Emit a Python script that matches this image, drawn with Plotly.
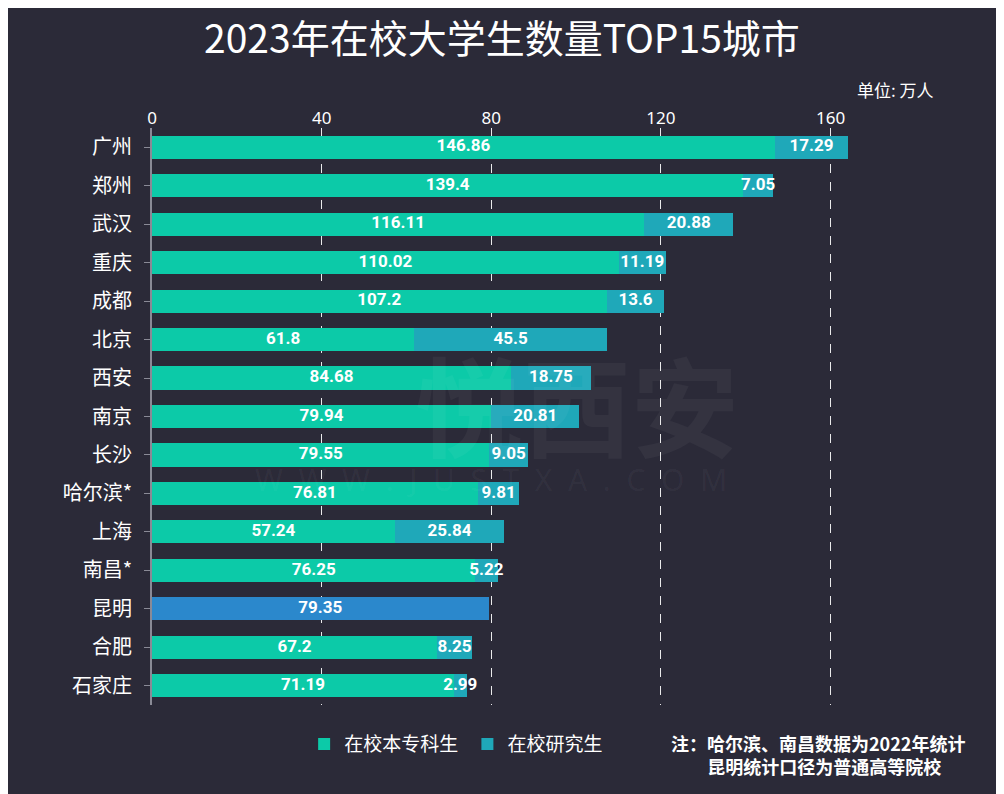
import plotly.graph_objects as go

cities = ["广州", "郑州", "武汉", "重庆", "成都", "北京", "西安", "南京", "长沙",
          "哈尔滨*", "上海", "南昌*", "昆明", "合肥", "石家庄"]
undergrad = [146.86, 139.4, 116.11, 110.02, 107.2, 61.8, 84.68, 79.94, 79.55,
             76.81, 57.24, 76.25, 79.35, 67.2, 71.19]
postgrad = [17.29, 7.05, 20.88, 11.19, 13.6, 45.5, 18.75, 20.81, 9.05,
            9.81, 25.84, 5.22, None, 8.25, 2.99]
x_ticks = [0, 40, 80, 120, 160]

BG = "#2b2a38"
C1 = "#0ccaa8"
C2 = "#1fa8b9"
C_KM = "#2b88cc"
FONT_CJK = "Noto Sans CJK SC"

c1_colors = [C_KM if c == "昆明" else C1 for c in cities]

fig = go.Figure()

# watermark (drawn first, faint)
fig.add_annotation(text="<b>悦西安</b>", xref="paper", yref="paper",
                   x=0.59, y=0.525, xanchor="center", yanchor="middle",
                   showarrow=False,
                   font=dict(family=FONT_CJK, size=108, color="rgba(255,255,255,0.045)"))
fig.add_annotation(text="W  W  W  .  J  U  S  T  X  A  .  C  O  M", xref="paper", yref="paper",
                   x=0.47, y=0.39, xanchor="center", yanchor="middle",
                   showarrow=False,
                   font=dict(family="Noto Sans", size=30, color="rgba(255,255,255,0.045)"))

fig.add_trace(go.Bar(
    y=cities, x=undergrad, orientation="h", name="在校本专科生 ",
    marker=dict(color=c1_colors, line=dict(width=0)), width=0.6,
    hoverinfo="x+y",
))
fig.add_trace(go.Bar(
    y=cities, x=postgrad, orientation="h", name="在校研究生",
    marker=dict(color=C2, line=dict(width=0)), width=0.6,
    hoverinfo="x+y",
))

# labels centered on each segment
lab_font = dict(family="Roboto", size=17, color="white")
u_mid = [u / 2 for u in undergrad]
fig.add_trace(go.Scatter(
    y=cities, x=u_mid, mode="text",
    text=[f"<b>{u:g}</b>" for u in undergrad],
    textfont=lab_font, showlegend=False, hoverinfo="skip",
))
p_y, p_mid, p_txt = [], [], []
for c, u, p in zip(cities, undergrad, postgrad):
    if p is not None:
        p_y.append(c)
        p_mid.append(u + p / 2)
        p_txt.append(f"<b>{p:g}</b>")
fig.add_trace(go.Scatter(
    y=p_y, x=p_mid, mode="text", text=p_txt,
    textfont=lab_font, showlegend=False, hoverinfo="skip",
))

fig.update_layout(
    width=1004, height=794,
    paper_bgcolor=BG, plot_bgcolor=BG,
    barmode="stack",
    margin=dict(l=144, r=139, t=120, b=97, autoexpand=False),
    title=dict(text="2023年在校大学生数量TOP15城市", x=0.492, xref="container",
               xanchor="center", y=0.96, yref="container", yanchor="middle",
               font=dict(family=FONT_CJK, size=39, color="white")),
    font=dict(family=FONT_CJK, color="white"),
    showlegend=True,
    legend=dict(orientation="h", x=0.211, xanchor="left", y=-0.035, yanchor="top",
                font=dict(family=FONT_CJK, size=19, color="white"),
                bgcolor="rgba(0,0,0,0)", traceorder="normal",
                itemwidth=30),
    xaxis=dict(side="top", range=[0, 170], tickvals=x_ticks, automargin=False,
               showgrid=True, gridcolor="rgba(255,255,255,0.9)", griddash="dash",
               gridwidth=1.3, zeroline=False, showline=False,
               ticks="", tickfont=dict(family="Noto Sans", size=17, color="white"),
               layer="above traces", fixedrange=True),
    yaxis=dict(range=[14.5, -0.5], showline=True, linecolor="#8a8a96",
               linewidth=2, ticks="outside", ticklen=6, tickcolor="#8a8a96",
               automargin=False,
               tickfont=dict(family=FONT_CJK, size=20, color="white"),
               showgrid=False, ticklabelstandoff=8, fixedrange=True),
)

fig.add_annotation(text="单位: 万人", xref="paper", yref="paper",
                   x=1.087, y=1.066, xanchor="right", yanchor="middle",
                   showarrow=False,
                   font=dict(family=FONT_CJK, size=17, color="white"))
fig.add_annotation(text="<b>注：哈尔滨、南昌数据为2022年统计</b><br><b>   昆明统计口径为普通高等院校</b>",
                   xref="paper", yref="paper", x=1.13, y=-0.04,
                   xanchor="right", yanchor="top", align="center",
                   showarrow=False,
                   font=dict(family=FONT_CJK, size=18, color="white"))

fig.write_html("out.html")
